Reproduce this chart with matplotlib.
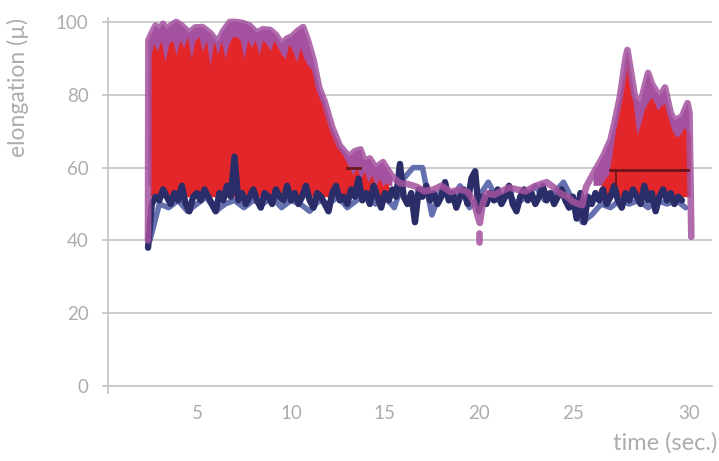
import numpy as np
import matplotlib
matplotlib.use("Agg")
import matplotlib.pyplot as plt
import matplotlib.transforms as mtransforms

plt.rcParams["font.family"] = ["Lato", "DejaVu Sans"]

# -------------------------------
# Data
# -------------------------------
x_ticks = [5, 10, 15, 20, 25, 30]
x_tick_labels = ["5", "10", "15", "20", "25", "30"]
y_ticks = [0, 20, 40, 60, 80, 100]

# red oscillation band, first burst (sampled every 0.2 s from 2.5 s)
red1_start = 2.5
red1_hi = [90, 94, 92, 95, 89, 94, 95, 91, 95, 93, 96, 90, 95, 96, 92, 95,
           88, 95, 91, 95, 90, 94, 96, 96, 95, 90, 95, 93, 95, 91, 95, 94,
           92, 95, 93, 91, 90, 94, 92, 89, 93, 90, 88, 87, 84, 80, 78, 75,
           72, 69, 67, 64, 62, 60, 58, 60, 57, 59, 56, 58, 55, 57, 55, 56, 54]

# red oscillation band, second burst
red2_t = [26.35, 26.5, 26.7, 26.9, 27.0, 27.2, 27.35, 27.5, 27.6, 27.8, 27.95,
          28.1, 28.25, 28.4, 28.6, 28.8, 29.0, 29.2, 29.4, 29.5, 29.7, 29.9,
          30.1, 30.3, 30.5, 30.7, 30.9, 31.1, 31.25]
red2_hi = [54, 55, 57, 58, 61, 68, 74, 78, 82, 87, 89.6, 82, 76, 69, 72, 76,
           78, 79.4, 77, 75.8, 77, 77.7, 73, 70, 68.4, 69, 71, 70, 69]
red_floor = 52

# purple envelope
purple_t = [2.40, 2.42, 2.6, 2.8, 3.0, 3.2, 3.4, 3.6, 3.9, 4.2, 4.6, 4.9, 5.3,
            5.7, 6.1, 6.4, 6.75, 7.1, 7.45, 7.8, 8.2, 8.5, 8.9, 9.2, 9.5, 9.8,
            10.05, 10.35, 10.65, 10.9, 11.2, 11.5, 11.8, 12.2, 12.6, 13.1,
            13.4, 13.7, 13.9, 14.2, 14.5, 14.9, 15.2, 15.4, 15.8, 16.2, 16.7,
            17.1, 17.6, 18.0, 18.5, 19.0, 19.4, 19.7, 19.95, 20.05, 20.2,
            20.4, 20.8, 21.1, 21.6, 22.0, 22.5, 22.9, 23.3, 23.6, 24.0, 24.3,
            24.7, 25.0, 25.3, 25.5, 25.7, 26.1, 26.6, 27.0, 27.2, 27.5, 27.8,
            27.9, 28.1, 28.3, 28.6, 28.8, 29.0, 29.2, 29.4, 29.6, 29.9, 30.2,
            30.4, 30.8, 31.1, 31.2, 31.3]
purple_y = [40, 95, 97, 99, 98, 99.5, 98, 99, 100, 99, 97, 98.5, 98.6, 97,
            94.5, 97.5, 100, 100, 99.7, 99, 97, 98, 97.8, 96.5, 94, 95.5, 96,
            97.5, 98.6, 95, 89.6, 82, 78, 71, 66, 63, 64.5, 65, 62, 62.5, 60,
            61.5, 59, 57.5, 55.7, 55.5, 54.7, 53.5, 54, 55, 53.3, 54, 53.3, 51,
            46.5, 44.8, 50, 53, 52.5, 53.3, 54.5, 54, 53.5, 54.7, 55.5, 56,
            54.5, 53, 52, 50.6, 50, 49.7, 54.7, 58.5, 63, 67.6, 72, 79.4, 90,
            92.3, 86, 79.4, 77.7, 82, 86, 83, 81.3, 79.4, 82, 75, 73, 74,
            77.7, 75, 41]
purple_blob_t = [20.0, 20.0]
purple_blob_y = [42, 39.5]

# navy trace (sampled every 0.2 s from 2.4 s)
navy_start = 2.4
navy_y = [38, 50, 52, 51, 54, 52, 50, 53, 51, 55, 50, 48, 52, 53, 51, 54,
          52, 50, 48, 53, 51, 55, 52, 63, 51, 53, 50, 52, 54, 51, 49, 53,
          52, 50, 54, 52, 51, 55, 51, 53, 50, 52, 55, 51, 49, 53, 52, 50,
          48, 53, 55, 51, 52, 50, 54, 52, 57, 51, 53, 50, 55, 52, 49, 53,
          51, 54, 52, 61, 52, 50, 53, 45, 54, 52, 55, 51, 53, 50, 52, 56,
          51, 53, 49, 52, 54, 50, 57, 59, 48, 52, 50, 53, 51, 54, 50, 52,
          55, 50, 48, 52, 54, 51, 53, 50, 52, 55, 51, 53, 50, 52, 54, 51,
          49, 52, 46, 53, 45, 52, 50, 53, 51, 54, 50, 52, 55, 51, 49, 53,
          51, 54, 52, 50, 55, 51, 53, 48, 52, 54, 51, 53, 50, 52, 51]

# lighter blue trace (sampled every 0.5 s from 2.5 s)
blue_start = 2.5
blue_y = [40, 50, 49, 51, 48, 50, 52, 48, 50, 51, 49, 51, 50, 52, 49, 51,
          50, 48, 51, 50, 52, 49, 51, 53, 50, 52, 49, 57, 60, 60, 47, 54,
          51, 55, 49, 52, 56, 51, 53, 50, 52, 55, 51, 53, 56, 51, 45, 47,
          50, 49, 51, 50, 51, 49, 51, 50, 51, 49]

# dark reference segments
dark_t = [27.0, 31.1]
dark_y = [59.3, 59.3]
dark_tick_t = [27.3, 27.3]
dark_tick_y = [59.3, 55.0]
dark_dot_t = [13.0, 13.7]
dark_dot_y = [60, 60]

# -------------------------------
# Colours
# -------------------------------
RED = "#e3262a"
PURPLE = "#a4529f"
NAVY = "#2b2d68"
BLUE = "#5460a6"
DARK = "#6a1519"
GREY = "#adadad"
GRID = "#c4c4c4"

red1_t = red1_start + 0.2 * np.arange(len(red1_hi))
navy_t = navy_start + 0.2 * np.arange(len(navy_y))
blue_t = blue_start + 0.5 * np.arange(len(blue_y))
pt = np.array(purple_t)
py = np.array(purple_y)

fig = plt.figure(figsize=(7.19, 4.61), dpi=100)
ax = fig.add_axes([108 / 719, 75 / 461, 604 / 719, 368 / 461])

# purple envelope fill behind the red bursts
mask = ((pt > 2.41) & (pt < 15.5)) | ((pt > 26.0) & (pt < 31.25))
ax.fill_between(pt, 55, py, where=mask, color=PURPLE, lw=0, zorder=2)

# red bursts
ax.fill_between(red1_t, red_floor, red1_hi, color=RED, lw=0, zorder=3)
ax.fill_between(red2_t, red_floor, red2_hi, color=RED, lw=0, zorder=3)

# traces
ax.plot(blue_t, blue_y, color=BLUE, lw=4.0, alpha=0.9, zorder=4,
        solid_joinstyle="round", solid_capstyle="round")
ax.plot(navy_t, navy_y, color=NAVY, lw=4.6, zorder=5,
        solid_joinstyle="round", solid_capstyle="round")
ax.plot(pt, py, color=PURPLE, lw=4.8, alpha=0.85, zorder=6,
        solid_joinstyle="round", solid_capstyle="round")
ax.plot(purple_blob_t, purple_blob_y, color=PURPLE, lw=4.8, alpha=0.85,
        zorder=6, solid_capstyle="round")
ax.plot(dark_t, dark_y, color=DARK, lw=2.0, zorder=7)
ax.plot(dark_tick_t, dark_tick_y, color=DARK, lw=1.2, zorder=7)
ax.plot(dark_dot_t, dark_dot_y, color=DARK, lw=2.0, zorder=7)

# axes styling
ax.set_xlim(0.27, 32.4)
ax.set_ylim(0, 101.1)
ax.set_yticks(y_ticks)
ax.set_xticks(x_ticks)
ax.set_xticklabels(x_tick_labels)
ax.grid(axis="y", color=GRID, lw=1.2, zorder=0)
ax.set_axisbelow(True)
for side in ("top", "right"):
    ax.spines[side].set_visible(False)
for side in ("left", "bottom"):
    ax.spines[side].set_color(GRID)
    ax.spines[side].set_linewidth(1.2)
ax.tick_params(axis="y", length=4, width=1.2, color=GRID, labelcolor=GREY,
               labelsize=13.5, pad=10)
ax.tick_params(axis="x", length=0, labelcolor=GREY, labelsize=13.5, pad=14)
ax.set_xticks([0.27], minor=True)
ax.tick_params(axis="x", which="minor", length=6, width=1.2, color=GRID)

# the last x label sits further right in the original
last = ax.get_xticklabels()[-1]
last.set_transform(last.get_transform() +
                   mtransforms.ScaledTranslation(22 / 100, 0, fig.dpi_scale_trans))

ax.set_ylabel("elongation (µ)", color=GREY, fontsize=16.5, loc="top")
ax.yaxis.set_label_coords(-(108 - 29) / 604, 1.0)
fig.text(717 / 719, 1 - 443 / 461, "time (sec.)", color=GREY, fontsize=17,
         ha="right", va="center")

fig.savefig("out.png", dpi=100)
